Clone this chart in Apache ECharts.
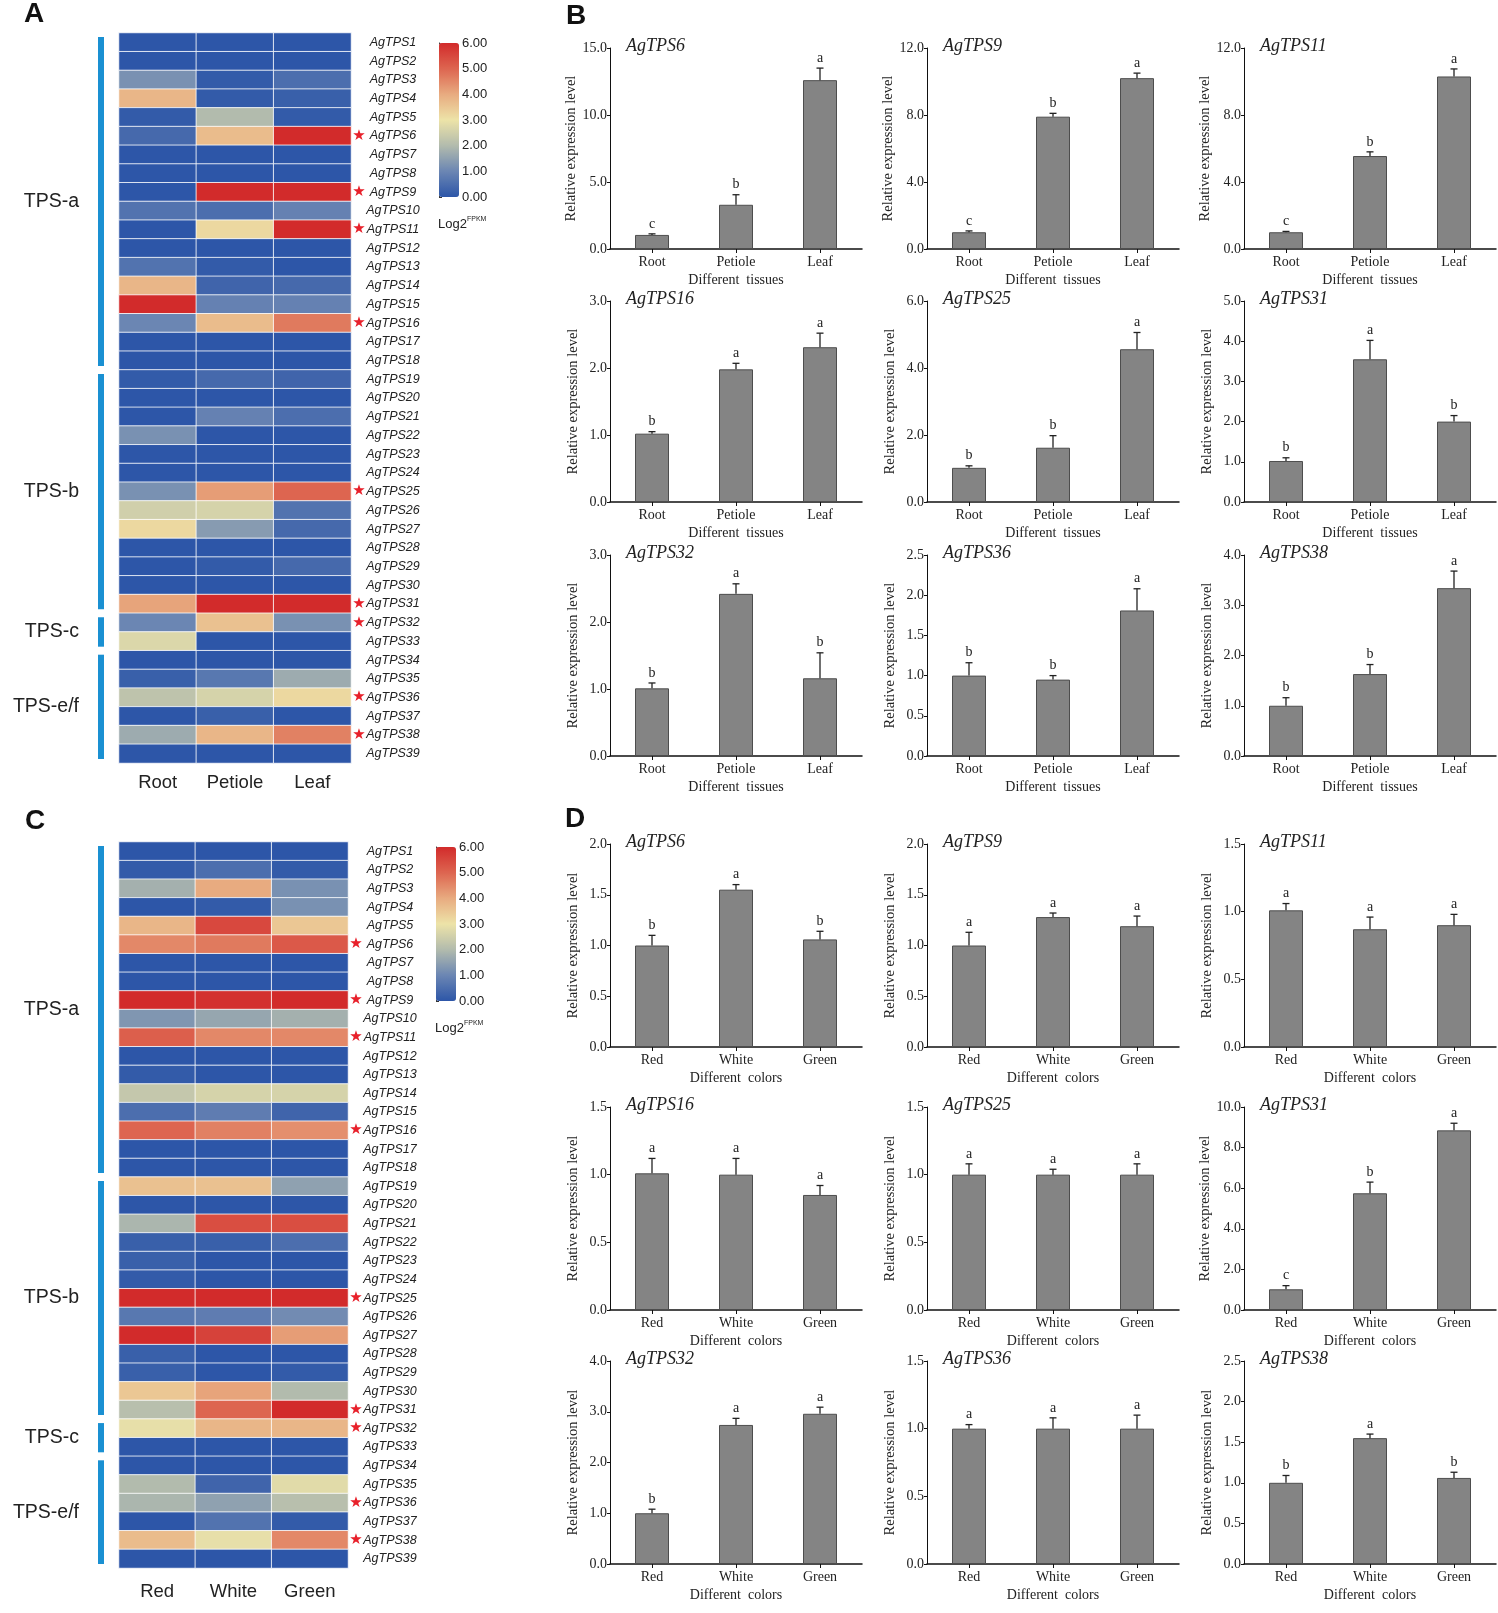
<!DOCTYPE html>
<html>
<head>
<meta charset="utf-8">
<script src="https://cdn.jsdelivr.net/npm/echarts@6/dist/echarts.min.js"></script>
<style>
body{margin:0;background:#fff;}
#chart{width:1498px;height:1613px;}
</style>
</head>
<body>
<div id="chart"></div>
<script>
var SERIF = '"Liberation Serif", "Times New Roman", serif';
var SANS = '"Liberation Sans", Arial, sans-serif';

//heatmap rows and groups
var geneRows = [];
for (var i = 1; i <= 39; i++) geneRows.push('AgTPS' + i);
var starGenes = ['AgTPS6', 'AgTPS9', 'AgTPS11', 'AgTPS16', 'AgTPS25', 'AgTPS31', 'AgTPS32', 'AgTPS36', 'AgTPS38'];
var groupNames = ['TPS-a', 'TPS-b', 'TPS-c', 'TPS-e/f'];
var groupFirst = [1, 19, 32, 34];
var groupLast = [18, 31, 33, 39];
var tissueNames = ['Root', 'Petiole', 'Leaf'];
var colorNames = ['Red', 'White', 'Green'];

//log2 FPKM, tissues (Root, Petiole, Leaf)
var tissueHeat = [
  [0.0, 0.0, 0.0], [0.0, 0.0, 0.0], [1.2, 0.1, 0.5], [3.8, 0.1, 0.2], [0.1, 2.0, 0.1],
  [0.4, 3.7, 6.0], [0.0, 0.0, 0.0], [0.0, 0.0, 0.0], [0.0, 6.0, 6.0], [0.6, 0.5, 0.9],
  [0.0, 3.2, 6.0], [0.0, 0.0, 0.0], [0.6, 0.1, 0.0], [3.8, 0.3, 0.4], [6.0, 0.9, 0.9],
  [1.0, 3.7, 4.7], [0.0, 0.0, 0.0], [0.0, 0.0, 0.0], [0.1, 0.4, 0.3], [0.0, 0.0, 0.0],
  [0.0, 0.9, 0.5], [1.2, 0.0, 0.0], [0.0, 0.0, 0.0], [0.0, 0.0, 0.0], [1.2, 4.2, 5.0],
  [2.5, 2.6, 0.6], [3.2, 1.4, 0.4], [0.0, 0.0, 0.0], [0.0, 0.1, 0.4], [0.0, 0.0, 0.0],
  [4.1, 6.0, 6.0], [1.0, 3.6, 1.2], [2.7, 0.0, 0.0], [0.0, 0.0, 0.0], [0.2, 0.7, 1.7],
  [2.2, 2.6, 3.2], [0.0, 0.2, 0.0], [1.7, 3.8, 4.6], [0.0, 0.0, 0.0]
];
//log2 FPKM, flower colors (Red, White, Green)
var colorHeat = [
  [0.0, 0.0, 0.0], [0.1, 0.5, 0.1], [1.8, 4.0, 1.2], [0.0, 0.1, 1.2], [3.8, 5.5, 3.5],
  [4.5, 4.7, 5.2], [0.0, 0.0, 0.0], [0.0, 0.0, 0.0], [6.0, 5.9, 6.0], [1.3, 1.6, 1.8],
  [5.1, 4.5, 4.5], [0.0, 0.0, 0.0], [0.1, 0.0, 0.0], [2.3, 2.6, 2.6], [0.5, 0.8, 0.3],
  [5.0, 4.6, 4.4], [0.0, 0.0, 0.0], [0.0, 0.0, 0.0], [3.6, 3.6, 1.5], [0.0, 0.0, 0.0],
  [1.9, 5.4, 5.4], [0.2, 0.2, 0.5], [0.2, 0.0, 0.0], [0.1, 0.0, 0.0], [6.0, 6.0, 6.0],
  [0.7, 0.8, 1.1], [6.0, 5.6, 4.2], [0.2, 0.0, 0.0], [0.2, 0.0, 0.1], [3.5, 4.1, 2.0],
  [2.1, 5.0, 6.0], [2.9, 3.8, 3.8], [0.0, 0.0, 0.0], [0.0, 0.0, 0.0], [2.0, 0.3, 2.8],
  [1.9, 1.5, 2.1], [0.0, 0.6, 0.1], [3.7, 2.9, 4.5], [0.0, 0.0, 0.0]
];
var heatColors = ['#2d56a8', '#6b86b3', '#b2bbad', '#ede3a8', '#e8ab80', '#dd6550', '#d22b2b'];

//qRT-PCR panels
var panelGenes = ['AgTPS6', 'AgTPS9', 'AgTPS11', 'AgTPS16', 'AgTPS25', 'AgTPS31', 'AgTPS32', 'AgTPS36', 'AgTPS38'];
var tissueMean = [[1.05, 3.3, 12.6], [1.0, 7.9, 10.2], [1.0, 5.55, 10.3], [1.02, 1.98, 2.31], [1.02, 1.62, 4.56],
  [1.02, 3.55, 2.0], [1.01, 2.42, 1.16], [1.0, 0.95, 1.81], [1.0, 1.63, 3.34]];
var tissueErr = [[0.08, 0.75, 0.9], [0.08, 0.2, 0.3], [0.05, 0.25, 0.45], [0.03, 0.09, 0.21], [0.06, 0.36, 0.5],
  [0.08, 0.47, 0.15], [0.08, 0.15, 0.38], [0.16, 0.05, 0.27], [0.16, 0.19, 0.34]];
var tissueSig = [['c', 'b', 'a'], ['c', 'b', 'a'], ['c', 'b', 'a'], ['b', 'a', 'a'], ['b', 'b', 'a'],
  ['b', 'a', 'b'], ['b', 'a', 'b'], ['b', 'b', 'a'], ['b', 'b', 'a']];
var tissueMax = [15, 12, 12, 3, 6, 5, 3, 2.5, 4];
var tissueStep = [5, 4, 4, 1, 2, 1, 1, 0.5, 1];

var colorMean = [[1.0, 1.55, 1.06], [1.0, 1.28, 1.19], [1.01, 0.87, 0.9], [1.01, 1.0, 0.85], [1.0, 1.0, 1.0],
  [1.02, 5.75, 8.85], [1.0, 2.74, 2.96], [1.0, 1.0, 1.0], [1.0, 1.55, 1.06]];
var colorErr = [[0.1, 0.05, 0.08], [0.13, 0.04, 0.1], [0.05, 0.09, 0.08], [0.11, 0.12, 0.07], [0.08, 0.04, 0.08],
  [0.18, 0.55, 0.35], [0.08, 0.13, 0.13], [0.03, 0.08, 0.1], [0.09, 0.05, 0.07]];
var colorSig = [['b', 'a', 'b'], ['a', 'a', 'a'], ['a', 'a', 'a'], ['a', 'a', 'a'], ['a', 'a', 'a'],
  ['c', 'b', 'a'], ['b', 'a', 'a'], ['a', 'a', 'a'], ['b', 'a', 'b']];
var colorMax = [2, 2, 1.5, 1.5, 1.5, 10, 4, 1.5, 2.5];
var colorStep = [0.5, 0.5, 0.5, 0.5, 0.5, 2, 1, 0.5, 0.5];

//layout
var colLeft = [610, 927, 1244];
var tissueTop = [48, 301, 555];
var colorTop = [844, 1107, 1361];

var chart = echarts.init(document.getElementById('chart'));
var option = {
  backgroundColor: '#fff',
  animation: false,
  grid: [], xAxis: [], yAxis: [], series: [], visualMap: [], title: [], graphic: []
};
var heatGrids = [];

//heatmap with its colour legend
function addHeatmap(top, width, height, cols, values, lgLeft, lgTop, labelMargin) {
  var g = option.grid.length;
  heatGrids.push({grid: g, cols: cols, lgLeft: lgLeft, lgTop: lgTop});
  option.grid.push({left: 119, top: top, width: width, height: height});
  option.xAxis.push({gridIndex: g, type: 'category', data: cols, position: 'bottom',
    axisLine: {show: false}, axisTick: {show: false},
    axisLabel: {fontFamily: SANS, fontSize: 18.5, color: '#222', margin: labelMargin}});
  option.yAxis.push({gridIndex: g, type: 'category', data: geneRows, inverse: true, position: 'right',
    axisLine: {show: false}, axisTick: {show: false},
    axisLabel: {margin: 42, align: 'center', fontFamily: SANS, fontStyle: 'italic', fontSize: 12.5, color: '#222'}});
  var cells = [];
  values.forEach(function (row, r) {
    row.forEach(function (v, c) { cells.push([c, r, v]); });
  });
  var s = option.series.length;
  option.series.push({type: 'heatmap', xAxisIndex: g, yAxisIndex: g, data: cells,
    itemStyle: {borderColor: 'rgba(255,255,255,0.8)', borderWidth: 1}});
  option.visualMap.push({type: 'continuous', seriesIndex: s, min: 0, max: 6, left: lgLeft, top: lgTop,
    itemWidth: 20, itemHeight: 154, calculable: false, text: ['', ''], padding: 0, textGap: 0,
    inRange: {color: heatColors}});
  //tick scale beside the colour bar
  var lg = option.grid.length;
  option.grid.push({left: lgLeft, top: lgTop, width: 20, height: 154});
  option.xAxis.push({gridIndex: lg, type: 'value', show: false});
  option.yAxis.push({gridIndex: lg, type: 'value', position: 'right', min: 0, max: 6, interval: 1,
    axisLine: {show: true, lineStyle: {color: '#333'}},
    axisTick: {show: true, length: 3, lineStyle: {color: '#333'}},
    splitLine: {show: false},
    axisLabel: {fontFamily: SANS, fontSize: 13, color: '#222', margin: 3,
      formatter: function (v) { return v.toFixed(2); }}});
}

//error bar + letter
function errRender(letters) {
  return function (params, api) {
    var x = api.value(0), m = api.value(1), e = api.value(2);
    var base = api.coord([x, m]);
    var tip = api.coord([x, m + e]);
    return {type: 'group', children: [
      {type: 'line', shape: {x1: base[0], y1: base[1], x2: tip[0], y2: tip[1]}, style: {stroke: '#222', lineWidth: 1.3}},
      {type: 'line', shape: {x1: tip[0] - 3.5, y1: tip[1], x2: tip[0] + 3.5, y2: tip[1]}, style: {stroke: '#222', lineWidth: 1.3}},
      {type: 'text', style: {x: tip[0], y: tip[1] - 3, text: letters[params.dataIndex], align: 'center',
        verticalAlign: 'bottom', fontFamily: SERIF, fontSize: 14, fill: '#222'}}
    ]};
  };
}

function addPanel(left, top, height, k, cats, mean, err, sig, max, step, xName) {
  var g = option.grid.length;
  option.grid.push({left: left, top: top, width: 252, height: height});
  option.xAxis.push({gridIndex: g, type: 'category', data: cats,
    axisLine: {lineStyle: {color: '#111', width: 1.5}},
    axisTick: {show: true, alignWithLabel: true, length: 4, lineStyle: {color: '#111'}},
    axisLabel: {fontFamily: SERIF, fontSize: 14, color: '#222', margin: 6},
    name: xName, nameLocation: 'middle', nameGap: 24,
    nameTextStyle: {fontFamily: SERIF, fontSize: 14, color: '#222'}});
  option.yAxis.push({gridIndex: g, type: 'value', min: 0, max: max, interval: step,
    axisLine: {show: true, lineStyle: {color: '#111'}},
    axisTick: {show: true, length: 3, lineStyle: {color: '#111'}},
    splitLine: {show: false},
    axisLabel: {fontFamily: SERIF, fontSize: 14, color: '#222', margin: 3,
      formatter: function (v) { return v.toFixed(1); }},
    name: 'Relative expression level', nameLocation: 'middle', nameGap: 29,
    nameTextStyle: {fontFamily: SERIF, fontSize: 14.5, color: '#222'}});
  option.series.push({type: 'bar', xAxisIndex: g, yAxisIndex: g, data: mean, barWidth: 34,
    itemStyle: {color: '#848484', borderColor: '#4d4d4d', borderWidth: 1}});
  option.series.push({type: 'custom', xAxisIndex: g, yAxisIndex: g, clip: false, z: 3,
    data: mean.map(function (m, i) { return [i, m, err[i]]; }),
    renderItem: errRender(sig)});
  option.title.push({text: panelGenes[k], left: left + 16, top: top - 11, padding: 0,
    textStyle: {fontFamily: SERIF, fontStyle: 'italic', fontWeight: 'normal', fontSize: 18, color: '#222'}});
}

addHeatmap(33, 232, 730, tissueNames, tissueHeat, 439, 43, 10);
for (var k = 0; k < 9; k++) {
  addPanel(colLeft[k % 3], tissueTop[Math.floor(k / 3)], 201, k, tissueNames,
    tissueMean[k], tissueErr[k], tissueSig[k], tissueMax[k], tissueStep[k], 'Different  tissues');
}
addHeatmap(842, 229, 726, colorNames, colorHeat, 436, 847, 14);
for (var k = 0; k < 9; k++) {
  addPanel(colLeft[k % 3], colorTop[Math.floor(k / 3)], 203, k, colorNames,
    colorMean[k], colorErr[k], colorSig[k], colorMax[k], colorStep[k], 'Different  colors');
}

//panel letters
[['A', 24, 0], ['B', 566, 2], ['C', 25, 807], ['D', 565, 805]].forEach(function (p) {
  option.graphic.push({type: 'text', left: p[1], top: p[2],
    style: {text: p[0], fontFamily: SANS, fontWeight: 'bold', fontSize: 28, fill: '#111'}});
});

chart.setOption(option);

//group bars, stars and legend caption placed from the heatmap axes
function heatExtras() {
  var items = [];
  heatGrids.forEach(function (h) {
    var finder = {xAxisIndex: h.grid, yAxisIndex: h.grid};
    var rowY = function (name) { return chart.convertToPixel(finder, [h.cols[0], name])[1]; };
    var rowH = rowY(geneRows[1]) - rowY(geneRows[0]);
    var right = chart.convertToPixel(finder, [h.cols[2], geneRows[0]])[0];
    var colW = right - chart.convertToPixel(finder, [h.cols[1], geneRows[0]])[0];
    var edgeR = right + colW / 2;
    var edgeL = chart.convertToPixel(finder, [h.cols[0], geneRows[0]])[0] - colW / 2;
    groupNames.forEach(function (name, j) {
      var y0 = rowY(geneRows[groupFirst[j] - 1]) - rowH / 2 + 4;
      var y1 = rowY(geneRows[groupLast[j] - 1]) + rowH / 2 - 4;
      items.push({type: 'rect', shape: {x: edgeL - 21, y: y0, width: 6, height: y1 - y0},
        style: {fill: '#1a90d2'}});
      items.push({type: 'text', x: 79, y: (y0 + y1) / 2,
        style: {text: name, align: 'right', verticalAlign: 'middle', fontFamily: SANS, fontSize: 19.5, fill: '#222'}});
    });
    starGenes.forEach(function (name) {
      items.push({type: 'text', x: edgeR + 8, y: rowY(name),
        style: {text: '\u2605', align: 'center', verticalAlign: 'middle', fontFamily: '"DejaVu Sans"', fontSize: 15, fill: '#e8202a'}});
    });
    items.push({type: 'text', x: h.lgLeft - 1, y: h.lgTop + 181,
      style: {text: 'Log2', align: 'left', verticalAlign: 'middle', fontFamily: SANS, fontSize: 13, fill: '#222'}});
    items.push({type: 'text', x: h.lgLeft + 28, y: h.lgTop + 176,
      style: {text: 'FPKM', align: 'left', verticalAlign: 'middle', fontFamily: SANS, fontSize: 7, fill: '#222'}});
  });
  option.graphic = option.graphic.concat(items);
  chart.setOption({graphic: option.graphic});
}
heatExtras();
</script>
</body>
</html>
